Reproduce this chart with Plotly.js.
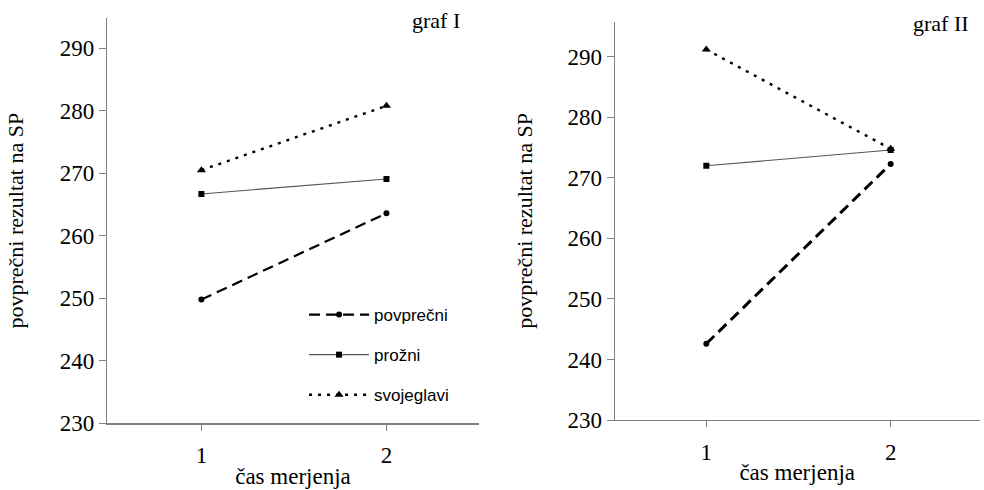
<!DOCTYPE html>
<html>
<head>
<meta charset="utf-8">
<script src="https://cdn.plot.ly/plotly-3.0.1.min.js"></script>
<style>html,body{margin:0;padding:0;background:#fff;}#chart{width:984px;height:490px;}</style>
</head>
<body>
<div id="chart"></div>
<script>
// Data
const times = [1, 2];
const seriesNames = ["povprečni", "prožni", "svojeglavi"];
const graf1_povprecni = [249.8, 263.6];
const graf1_prozni = [266.7, 269.1];
const graf1_svojeglavi = [270.5, 280.8];
const graf2_povprecni = [242.6, 272.3];
const graf2_prozni = [272.0, 274.6];
const graf2_svojeglavi = [291.2, 274.8];
const yTicks = [230, 240, 250, 260, 270, 280, 290];
const xTicks = [1, 2];
const panelTitles = ["graf I", "graf II"];
const yTitle = "povprečni rezultat na SP";
const xTitle = "čas merjenja";

const serif = "Liberation Serif";
const sans = "Liberation Sans";

function traces(vals, xa, ya, showLegend, thick) {
  return [
    {x: times, y: vals[0], xaxis: xa, yaxis: ya, name: seriesNames[0], legendgroup: "a", showlegend: showLegend,
     mode: "lines+markers", line: {color: "#000", width: thick ? 3 : 2.2, dash: "11px,6px"},
     marker: {symbol: "circle", size: 6, color: "#000"}},
    {x: times, y: vals[1], xaxis: xa, yaxis: ya, name: seriesNames[1], legendgroup: "b", showlegend: showLegend,
     mode: "lines+markers", line: {color: "#555", width: 1.1},
     marker: {symbol: "square", size: 6, color: "#000"}},
    {x: times, y: vals[2], xaxis: xa, yaxis: ya, name: seriesNames[2], legendgroup: "c", showlegend: showLegend,
     mode: "lines+markers", line: {color: "#000", width: 2.4, dash: "3px,6px"},
     marker: {symbol: "triangle-up", size: 8, color: "#000"}}
  ];
}

const data = [].concat(
  traces([graf1_povprecni, graf1_prozni, graf1_svojeglavi], "x", "y", true, false),
  traces([graf2_povprecni, graf2_prozni, graf2_svojeglavi], "x2", "y2", false, true)
);

function xAxis(domain, range, anchor) {
  return {
    domain: domain, range: range, anchor: anchor,
    tickmode: "array", tickvals: xTicks, ticktext: xTicks.map(String),
    showgrid: false, zeroline: false, showline: true, linecolor: "#808080", linewidth: 1.2,
    ticks: "outside", ticklen: 6, tickcolor: "#808080", tickwidth: 1,
    ticklabelstandoff: 5,
    tickfont: {family: serif, size: 23, color: "#000"},
    title: {text: xTitle, font: {family: serif, size: 23, color: "#000"}, standoff: 0},
    automargin: false, fixedrange: true
  };
}
function yAxis(domain, range, anchor, standoff) {
  return {
    domain: domain, range: range, anchor: anchor,
    tickmode: "array", tickvals: yTicks, ticktext: yTicks.map(String),
    showgrid: false, zeroline: false, showline: true, linecolor: "#808080", linewidth: 1.2,
    ticks: "outside", ticklen: 7, tickcolor: "#808080", tickwidth: 1,
    tickfont: {family: serif, size: 23, color: "#000"},
    title: {text: yTitle, font: {family: serif, size: 22, color: "#000"}, standoff: standoff},
    automargin: false, fixedrange: true
  };
}

const layout = {
  width: 984, height: 490,
  margin: {l: 0, r: 0, t: 0, b: 0},
  paper_bgcolor: "#fff", plot_bgcolor: "#fff",
  font: {family: serif, size: 23, color: "#000"},
  xaxis: xAxis([107/984, 479/984], [0.49, 2.5], "y"),
  yaxis: yAxis([1 - 423.3/490, 1 - 18/490], [230, 294.85], "x", 30),
  xaxis2: xAxis([614.7/984, 979.7/984], [0.503, 2.483], "y2"),
  yaxis2: yAxis([1 - 420/490, 1 - 21.7/490], [230, 295.8], "x2", 28),
  showlegend: true,
  legend: {
    x: 0.309, y: 1 - 297/490, xanchor: "left", yanchor: "top",
    bgcolor: "rgba(0,0,0,0)", borderwidth: 0,
    font: {family: sans, size: 17, color: "#000"},
    traceorder: "grouped", tracegroupgap: 15, itemwidth: 60
  },
  annotations: [
    {text: panelTitles[0], xref: "paper", yref: "paper", x: 436/984, y: 1 - 20/490, xanchor: "center", yanchor: "middle",
     showarrow: false, font: {family: serif, size: 22, color: "#000"}},
    {text: panelTitles[1], xref: "paper", yref: "paper", x: 941/984, y: 1 - 23/490, xanchor: "center", yanchor: "middle",
     showarrow: false, font: {family: serif, size: 22, color: "#000"}}
  ]
};

Plotly.newPlot("chart", data, layout, {displayModeBar: false, staticPlot: true});
</script>
</body>
</html>
